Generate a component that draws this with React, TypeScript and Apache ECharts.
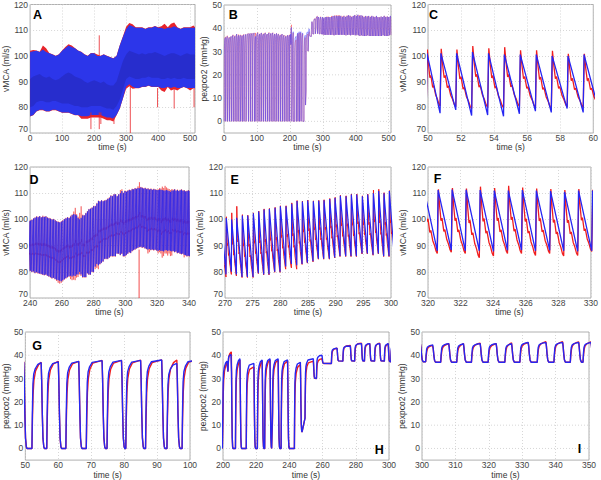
import React, { useEffect, useRef } from "react";
import * as echarts from "echarts";

// ---------------- Panel A (0–515 s): vMCA envelope, every 10 s ----------------
const aT = [0, 10, 20, 30, 40, 50, 60, 70, 80, 90, 100, 110, 120, 130, 140, 150, 160, 170, 180, 190, 200, 210, 220, 230, 240, 250, 260, 270, 280, 290, 300, 310, 320, 330, 340, 350, 360, 370, 380, 390, 400, 410, 420, 430, 440, 450, 460, 470, 480, 490, 500, 510, 515];
const aBlueUp = [101.5, 101.8, 102, 101.5, 102.5, 101.5, 101, 100.5, 100, 100.5, 102, 103, 104, 103.5, 103, 102, 101.5, 100.5, 100, 101, 101, 100, 100, 100.5, 100, 99.5, 99, 100, 104, 107.5, 110.5, 112, 111.5, 111, 111, 111, 110.5, 111, 111, 111.5, 111, 111, 110.5, 111, 111, 111.5, 111, 110.5, 111, 111, 111, 111, 111];
const aBlueLow = [76.5, 77, 78.5, 79, 79, 78.5, 78.5, 79, 79, 78.5, 78, 78, 78, 77.5, 77, 77, 76.5, 76.5, 76.5, 77, 77, 77, 77, 76.5, 76, 76, 75.5, 77, 79.5, 83.5, 88, 89, 88, 87.5, 87.5, 88, 88, 88.5, 88, 88, 88, 87.5, 87.5, 88, 87.5, 88, 87.5, 87.5, 88, 87.5, 87.5, 87.5, 87.5];
const aCoreUp = [91, 92, 92.5, 93, 92, 91.5, 92, 91, 90.5, 91, 92, 93, 93.5, 93, 92, 91.5, 91, 90, 89.5, 90, 90.5, 90, 89.5, 90, 89, 88.5, 88.5, 90, 94, 98, 100.5, 102, 101.5, 101, 100.5, 101, 100.5, 101, 101, 101.5, 101, 100.5, 100, 100.5, 101, 101, 100.5, 100, 100.5, 101, 100.5, 100.5, 100.5];
const aCoreLow = [80, 80.5, 82, 82.5, 82.5, 82, 82, 82.5, 82.5, 82, 81.5, 81.5, 81.5, 81, 80.5, 80.5, 80, 80, 80, 80.5, 80.5, 80.5, 80.5, 80, 79.5, 79.5, 79, 80.5, 83, 87, 91, 92, 91.5, 91, 91, 91.5, 91.5, 92, 91.5, 91.5, 91.5, 91, 91, 91.5, 91, 91.5, 91, 91, 91.5, 91, 91, 91, 91];
const aRedUp = [102, 102.3, 102.1, 101.6, 104, 103, 101.1, 100.6, 100.1, 100.6, 102.1, 103.5, 104.5, 104, 103.1, 102.1, 101.6, 100.6, 100.1, 101.1, 101.1, 100.5, 100.1, 100.6, 100.1, 99.6, 99.1, 100.1, 104.1, 107.6, 111.3, 112.8, 112.3, 111.1, 111.1, 111.1, 110.6, 111.1, 111.1, 111.6, 111.1, 111.5, 112.5, 111.1, 112.5, 113, 111.1, 110.6, 111.1, 111.1, 111.1, 111.8, 111.1];
const aRedLow = [76.4, 76.9, 78.4, 78.9, 78.9, 78.4, 78.4, 78.9, 78.9, 78.4, 77.9, 77.9, 77.9, 77.4, 76.9, 76.9, 75.5, 75.5, 75.5, 76, 76, 76, 76, 75.5, 75, 75, 74.5, 76.9, 79.4, 83.4, 87.2, 88.2, 87.2, 87.4, 87.4, 87.9, 87.9, 88.4, 87.9, 87.9, 87.9, 86.5, 86, 87.9, 86.5, 87, 86.5, 87.4, 87.9, 87.4, 86.5, 87.4, 87.4];
// red artefact spikes: [time, low, high]
const aRedSpikes = [[190, 71.5, 78], [216, 71.5, 78], [221, 73.5, 78], [216, 100, 108], [262, 73.5, 76], [313, 70, 88], [398, 80, 87.5], [450, 79.5, 87.5], [512, 80, 87.5]];

// ---------------- Panel C (50–60 s): beats ----------------
const cBeatT = [49.94, 50.78, 51.73, 52.69, 53.66, 54.62, 55.58, 56.55, 57.51, 58.47, 59.44, 60.4];
const cBluePeak = [101, 101, 101, 101.5, 101, 100.5, 100.5, 100.5, 100, 100, 100.5, 100];
const cBlueTrough = [78, 77.7, 79, 76.8, 77, 76.5, 77.5, 78.5, 78, 79.5, 78, 78.5];
const cRedPeak = [102.5, 102.8, 102.5, 103.8, 103, 103.4, 102.2, 102.2, 102, 100.8, 100.8, 100];
const cRedTrough = [80, 80.5, 80.2, 79.5, 80, 79.8, 80.3, 80, 79.5, 80.2, 80, 80];

// ---------------- Panels D/E/F (240–340 s): beats ----------------
const vBeatT = [
  239.25, 240.22, 241.19, 242.17, 243.13, 244.11, 245.08, 246.06, 247.02, 248.0, 248.97, 249.95, 250.91, 251.89, 252.86, 253.84, 254.8, 255.78, 256.75, 257.73, 258.69, 259.67, 260.64, 261.62, 262.58, 263.56, 264.53, 265.51, 266.47, 267.45, 268.42, 269.3,
  270.23, 271.2, 272.11, 273.13, 274.1, 275.12, 276.08, 277.05, 278.01, 279.04, 280.0, 281.02, 282.05, 283.01, 283.98, 284.94, 285.96, 286.93, 287.89, 288.92, 289.88, 290.84, 291.87, 292.83, 293.8, 294.82, 295.78, 296.81, 297.77, 298.73, 299.7,
  300.62, 301.53, 302.44, 303.36, 304.26, 305.17, 306.08, 306.98, 307.89, 308.8, 309.7, 310.61, 311.51, 312.42, 313.33, 314.23, 315.14, 316.04, 316.95, 317.85, 318.77, 319.76,
  320.62, 321.48, 322.34, 323.2, 324.07, 324.93, 325.79, 326.65, 327.52, 328.38, 329.24,
  330.1, 330.97, 331.83, 332.7, 333.57, 334.43, 335.3, 336.17, 337.03, 337.9, 338.77, 339.63, 340.5,
];
const vBluePeak = [
  99.3, 99.5, 99.8, 100.3, 100.6, 101, 100.8, 101.2, 100.7, 101, 100.9, 101.1, 100.6, 100.4, 100.2, 99.9, 100, 99.6, 99.2, 99, 98.8, 99.1, 99.5, 100, 100.4, 100.7, 100.5, 101, 101.6, 102, 101.8, 101.5,
  100.5, 100, 100.6, 101.5, 101.5, 102.3, 103, 103.8, 104, 104.4, 105, 105, 106, 107, 106.8, 107.2, 106.9, 107.1, 107.3, 107.8, 108.2, 109, 108.8, 109.5, 109.5, 108.8, 109.5, 110, 110.8, 110, 110.8,
  110.5, 110.9, 111.2, 111, 111.5, 111.4, 111.8, 111.6, 112, 111.8, 112.2, 112, 111.7, 111.9, 111.5, 111.7, 111.3, 111.6, 111.2, 111.5, 111.3, 111.2,
  111.2, 111.4, 111.3, 111.2, 111, 111, 111.2, 111, 110.8, 110.5, 111,
  111, 111.4, 110.9, 111.2, 110.8, 111.1, 111.3, 110.9, 111, 110.6, 110.8, 111, 110.8,
];
const vBlueTrough = [
  80.2, 80.5, 80, 80.2, 79.6, 79.9, 79.5, 79.4, 79.2, 79, 78.8, 79, 78.6, 78.3, 78, 77.6, 77.8, 77.3, 77, 76.8, 76.6, 76.4, 76.8, 77.2, 77.6, 78, 78.3, 78.5, 78.2, 78.6, 78.4, 79,
  79, 80, 79, 78, 78, 78, 79.5, 79, 79, 80, 80, 82, 83, 82.5, 83, 83.5, 84, 85, 85, 85, 85.5, 86, 86, 86, 86, 87, 87, 86.5, 87, 86, 86,
  86.5, 87, 87.5, 87.3, 88, 88.4, 88.6, 89, 89.2, 89.5, 89.6, 89.3, 89.5, 89, 88.8, 88.5, 88.7, 88.4, 88.6, 88.3, 88.5, 88.2,
  88, 88.3, 88, 88, 87.8, 88.2, 88.3, 88, 88.2, 88, 87.8,
  88, 87.6, 87.8, 87.2, 87.4, 87, 86.8, 87, 86.5, 86.4, 86, 86.2, 86,
];
const vRedPeak = [
  99.5, 99.6, 100, 100.4, 100.8, 101.2, 101, 101.3, 100.9, 101.4, 101.1, 101.2, 100.8, 100.6, 100.4, 100.1, 100.2, 99.8, 99.4, 99.2, 99, 99.3, 99.8, 100.2, 100.6, 100.9, 100.7, 101.4, 101.9, 103, 104.4, 102,
  101, 102.5, 105, 101.8, 101.6, 102.5, 103.2, 104, 104.2, 104.6, 105.2, 105.2, 106.3, 107.2, 107, 107.4, 107.1, 107.3, 107.5, 108, 108.4, 109.2, 109, 109.7, 109.7, 109, 109.7, 111.2, 111.5, 110.2, 111,
  110.7, 111.1, 111.4, 111.2, 111.7, 111.6, 112, 111.8, 112.6, 114.2, 112.4, 112.2, 111.9, 112.1, 111.7, 111.9, 111.5, 111.8, 111.4, 111.7, 111.5, 111.4,
  111.5, 112, 111.8, 112.5, 112, 112.8, 112.2, 111.8, 111.6, 111.2, 111.6,
  111.3, 111.6, 111.1, 111.4, 111, 111.3, 111.5, 111.1, 111.2, 110.8, 111, 111.2, 111,
];
const vRedTrough = [
  80, 80.3, 79.8, 80, 79.4, 79.7, 79.3, 79.2, 79, 78.8, 78.6, 78.8, 78.4, 78.1, 77.8, 77.4, 77.6, 77.1, 76.5, 75.8, 75.5, 75.8, 76.4, 77, 77.4, 77.8, 78.1, 77.2, 76.8, 77, 76.8, 77.8,
  78, 79, 78.4, 77.8, 77.8, 77.8, 79.3, 78.8, 78.8, 79.8, 79.8, 81, 81.5, 81, 82.8, 83.3, 83.8, 84.8, 84.8, 84.8, 85.3, 85.8, 85.8, 85.8, 85.8, 86.8, 86.8, 86.3, 86.8, 85.8, 85.8,
  86.3, 86.8, 87.3, 87.1, 87.8, 88.2, 88.4, 88.8, 89, 89.3, 89.4, 89.1, 89.3, 88.8, 88.6, 87, 87.5, 88.2, 88.4, 88.1, 88.3, 88,
  87, 87.5, 87, 85.4, 86, 87, 87, 86.2, 87, 86, 86.2,
  87.8, 87.4, 87.6, 87, 87.2, 86.8, 86.6, 86.8, 85.5, 86.2, 85.8, 86, 85.8,
];
const vRedSpikes = [[308.6, 70, 88.5]];

// ---------------- pexpco2 breaths: [rise, fall, blueTop, redTop, levelAfter, startLevel?] ----------------
const co2Pulses: number[][] = [
  [0.6, 4.2, 36, 36.3, 0], [6.3, 10.0, 36.5, 36.8, 0], [12.2, 15.8, 36, 36.2, 0], [17.7, 21.5, 36.5, 36.5, 0], [23.5, 27.2, 37, 37.2, 0],
  [29.0, 32.8, 36.5, 36.8, 0], [34.8, 38.5, 37.5, 37.5, 0], [40.2, 44.0, 37, 37.3, 0], [45.9, 49.5, 37, 37.2, 0],
  [52.0, 54.8, 36.8, 37, 0], [56.5, 60.0, 37.2, 37.4, 0], [62.3, 66.2, 37.4, 37.4, 0], [68.5, 73.3, 37.7, 37.8, 0], [74.8, 79.2, 37.8, 37.8, 0],
  [80.5, 85.0, 37.8, 37.9, 0], [86.5, 91.4, 38, 38, 0], [93.0, 96.0, 36.5, 38, 0], [97.6, 102.4, 38, 38.2, 0],
  [103.8, 107.9, 37.5, 37.6, 0], [109.6, 113.5, 38, 38, 0], [115.3, 119.4, 37.5, 37.7, 0], [121.0, 125.2, 38, 38.1, 0], [126.8, 130.9, 37.5, 37.5, 0],
  [132.4, 136.5, 38, 38.2, 0], [138.1, 142.3, 37.8, 37.8, 0], [143.9, 148.0, 38, 38.1, 0], [149.5, 153.6, 37.5, 37.6, 0], [155.2, 159.4, 37.8, 37.8, 0],
  [160.9, 165.0, 37.5, 37.6, 0], [166.6, 170.7, 37, 37.2, 0], [172.3, 176.4, 37.5, 37.5, 0], [178.0, 182.0, 37, 37.1, 0], [183.6, 187.7, 36.5, 36.8, 0],
  [189.3, 193.3, 37, 37, 0], [194.8, 198.6, 37, 37.2, 0],
  [199.8, 202.4, 37.5, 37, 33], [203.0, 205.0, 40.5, 41.5, 0], [207.5, 210.2, 38.5, 38, 0], [214.0, 218.6, 36.5, 35, 0], [220.7, 223.6, 38, 37.5, 0],
  [225.1, 228.3, 38.5, 38, 0], [229.7, 233.2, 38.5, 38, 0], [235.0, 238.9, 38, 37.5, 0], [243.0, 246.6, 37, 36, 7], [249.4, 254.4, 38.5, 37.5, 30, 13],
  [256.3, 259.6, 40, 38.5, 36.5], [265.3, 268.7, 43, 43, 37.5], [272.2, 276.7, 44, 44.2, 37.5], [279.3, 283.4, 45, 45.2, 37.5], [285.2, 288.4, 45, 45, 37.5],
  [291.3, 294.4, 45, 45.2, 37.5], [297.2, 299.5, 45, 45, 37.2],
  [301.1, 303.2, 44.5, 44.5, 37], [305.6, 308.0, 45, 45, 37], [310.4, 312.4, 45, 45, 37], [314.8, 317.4, 45, 45.2, 37], [319.8, 322.2, 45, 45, 37],
  [324.8, 326.8, 45, 45.3, 37], [329.3, 331.8, 45.5, 45.5, 37], [334.5, 337.1, 45.5, 45.8, 37], [339.5, 342.1, 45.5, 45.8, 37], [344.4, 346.9, 45.5, 45.8, 37],
  [348.2, 350.6, 45.5, 45.8, 37],
  [353.0, 355.4, 45.5, 45.6, 37], [357.7, 360.1, 45, 45.3, 37], [362.4, 364.8, 45.5, 45.6, 37], [367.0, 369.5, 45, 45.2, 36.8], [371.8, 374.2, 45.5, 45.7, 37],
  [376.5, 378.9, 45.8, 45.8, 37], [381.1, 383.6, 45.5, 45.6, 36.8], [385.9, 388.3, 45, 45.3, 37], [390.6, 393.0, 45.5, 45.5, 37], [395.2, 397.7, 45.8, 46, 36.8],
  [400.0, 402.4, 45.5, 45.6, 37], [404.7, 407.1, 46, 46, 36.8], [409.3, 411.8, 45.5, 45.8, 36.5], [414.1, 416.5, 45.8, 45.8, 36.8], [418.8, 421.2, 45.5, 45.6, 36.5],
  [423.4, 425.9, 45, 45.3, 36.5], [428.2, 430.6, 45.5, 45.5, 36.5], [432.9, 435.3, 45.2, 45.4, 36.8], [437.5, 440.0, 45.5, 45.5, 36.5], [442.3, 444.7, 45, 45.2, 36.5],
  [447.0, 449.4, 45.5, 45.6, 36.5], [451.6, 454.1, 45.2, 45.2, 36.5], [456.4, 458.8, 45, 45.2, 36.5], [461.1, 463.5, 45.5, 45.5, 36.5], [465.7, 468.2, 45, 45.1, 36.5],
  [470.5, 472.9, 44.8, 45, 36.5], [475.2, 477.6, 45.2, 45.3, 36.5], [479.9, 482.3, 45, 45, 36.8], [484.5, 487.0, 45.5, 45.6, 36.5], [489.3, 491.7, 45, 45.2, 36.5],
  [494.0, 496.4, 45.2, 45.3, 36.5], [498.6, 501.1, 45, 45.1, 36.8], [503.4, 505.8, 45.5, 45.5, 37],
];

const co2Ticks = [0, 10, 20, 30, 40, 50];

// ---------------- styling ----------------
const FONT = "'Liberation Sans', Arial, Helvetica, sans-serif";
const BLUE = "#2626f2";
const RED = "#f01e1e";
const GRIDC = "#cdcdcd";

// waveform templates (shape only; amplitudes/timings come from the arrays above)
const RED_BEAT = [[0.1, 0.72], [0.2, 0.5], [0.28, 0.54], [0.42, 0.33], [0.5, 0.36], [0.65, 0.2], [0.78, 0.13], [0.9, 0.04]];
const RISE_B = [[0.12, 0.4], [0.3, 0.75], [0.55, 0.87], [1.0, 0.93], [1.8, 0.98]];
const RISE_R = [[0.15, 0.33], [0.35, 0.63], [0.6, 0.79], [1.1, 0.9], [2.0, 0.97]];
const FALL = [[0.15, 0.8], [0.35, 0.4], [0.55, 0.12], [0.8, 0.02], [1.0, 0]];

function blueBeats(t: number[], pk: number[], tr: number[]) {
  const pts: number[][] = [];
  const n = Math.min(t.length, pk.length, tr.length);
  for (let i = 0; i < n; i++) {
    pts.push([t[i] - 0.05, tr[i]]);
    pts.push([t[i], pk[i]]);
  }
  return pts;
}

function redBeats(t: number[], pk: number[], tr: number[]) {
  const pts: number[][] = [];
  const n = Math.min(t.length, pk.length, tr.length);
  for (let i = 0; i < n; i++) {
    const tp = t[i] + 0.02;
    pts.push([t[i] - 0.05, tr[i]]);
    pts.push([tp, pk[i]]);
    if (i + 1 < n) {
      const d = t[i + 1] - 0.05 - tp;
      const nx = tr[i + 1];
      for (const [ft, fv] of RED_BEAT) pts.push([tp + ft * d, nx + fv * (pk[i] - nx)]);
    }
  }
  return pts;
}

function co2Line(red: boolean) {
  const pts: number[][] = [];
  let level = 0;
  const shape = red ? RISE_R : RISE_B;
  for (let i = 0; i < co2Pulses.length; i++) {
    const p = co2Pulses[i];
    const r = p[0], f = p[1], top = red ? p[3] : p[2], after = p[4];
    const b0 = p.length > 5 ? p[5] : level;
    const nextRise = i + 1 < co2Pulses.length ? co2Pulses[i + 1][0] : Infinity;
    pts.push([r, b0]);
    for (const [dt, fr] of shape) if (r + dt < f - 0.05) pts.push([r + dt, b0 + fr * (top - b0)]);
    pts.push([f, top]);
    for (const [dt, fr] of FALL) if (f + dt < nextRise - 0.02) pts.push([f + dt, after + fr * (top - after)]);
    level = after;
  }
  return pts;
}

type PanelDef = {
  grid: number[];
  x: number[];
  kind: "v" | "c";
  yName: string;
  yGap: number;
  letter: string;
  lx: number;
  ly: number;
};

const panels: PanelDef[] = [
  { grid: [29, 4, 166, 129], x: [0, 515, 100], kind: "v", yName: "vMCA (ml/s)", yGap: 11, letter: "A", lx: 37.5, ly: 14.5 },
  { grid: [224, 5, 167, 128], x: [0, 507, 100], kind: "c", yName: "pexpco2 (mmHg)", yGap: 10, letter: "B", lx: 233.3, ly: 15 },
  { grid: [428, 4, 166, 129], x: [50, 60, 2], kind: "v", yName: "vMCA (ml/s)", yGap: 15, letter: "C", lx: 433.5, ly: 14.5 },
  { grid: [28, 167, 161, 131], x: [240, 340, 20], kind: "v", yName: "vMCA (ml/s)", yGap: 18, letter: "D", lx: 34, ly: 179.5 },
  { grid: [225, 167, 166, 131], x: [270, 300, 5], kind: "v", yName: "vMCA (ml/s)", yGap: 12, letter: "E", lx: 234.7, ly: 179.5 },
  { grid: [428, 167, 168, 131], x: [320, 330, 2], kind: "v", yName: "vMCA (ml/s)", yGap: 15, letter: "F", lx: 437.5, ly: 179.2 },
  { grid: [23, 332, 167, 131], x: [50, 100, 10], kind: "c", yName: "pexpco2 (mmHg)", yGap: 8, letter: "G", lx: 37, ly: 346 },
  { grid: [223, 332, 166, 131], x: [200, 300, 20], kind: "c", yName: "pexppco2 (mmHg)", yGap: 10, letter: "H", lx: 379.2, ly: 450 },
  { grid: [422, 332, 167, 131], x: [300, 350, 10], kind: "c", yName: "pexpco2 (mmHg)", yGap: 9, letter: "I", lx: 579.5, ly: 449 },
];

function buildOption() {
  const grids = panels.map((p) => ({
    left: p.grid[0], top: p.grid[1], width: p.grid[2], height: p.grid[3],
    show: true, borderColor: "#9c9c9c", borderWidth: 0.8, backgroundColor: "transparent", containLabel: false,
  }));
  const labelStyle = { fontSize: 8.5, color: "#444", fontFamily: FONT };
  const xAxes = panels.map((p, k) => ({
    type: "value", gridIndex: k, min: p.x[0], max: p.x[1], interval: p.x[2],
    name: "time (s)", nameLocation: "middle", nameGap: 6,
    nameTextStyle: { fontSize: 8.5, color: "#333", fontFamily: FONT },
    axisLine: { show: false }, axisTick: { show: false },
    axisLabel: {
      ...labelStyle, margin: 0, hideOverlap: false,
      formatter: (v: number) => (Math.abs(v / p.x[2] - Math.round(v / p.x[2])) < 1e-6 ? String(v) : ""),
    },
    splitLine: { show: true, lineStyle: { color: GRIDC, width: 0.8, type: [1, 2] } },
  }));
  const yAxes = panels.map((p, k) =>
    p.kind === "v"
      ? {
          type: "value", gridIndex: k, min: 70, max: 120, interval: 10,
          name: p.yName, nameLocation: "middle", nameGap: p.yGap,
          nameTextStyle: { fontSize: 8.5, color: "#333", fontFamily: FONT },
          axisLine: { show: false }, axisTick: { show: false },
          axisLabel: { ...labelStyle, margin: 2, verticalAlignMinLabel: "bottom" },
          splitLine: { show: true, lineStyle: { color: GRIDC, width: 0.8, type: [1, 2] } },
        }
      : {
          type: "value", gridIndex: k, min: -5, max: 50, interval: 5,
          name: p.yName, nameLocation: "middle", nameGap: p.yGap,
          nameTextStyle: { fontSize: 8.5, color: "#333", fontFamily: FONT },
          axisLine: { show: false }, axisTick: { show: false },
          axisLabel: { ...labelStyle, margin: 2, formatter: (v: number) => (v % 10 === 0 ? String(v) : "") },
          splitLine: { show: false },
        }
  );

  const series: any[] = [];
  const line = (k: number, data: number[][], color: string, width: number, z: number) => ({
    type: "line", xAxisIndex: k, yAxisIndex: k, data, showSymbol: false, symbol: "none",
    lineStyle: { color, width }, silent: true, clip: true, z, animation: false,
  });
  const band = (k: number, t: number[], up: number[], low: number[], color: string, z: number) => ({
    type: "custom", xAxisIndex: k, yAxisIndex: k, data: [[t[0], low[0]]], silent: true, z, clip: true,
    renderItem: (_params: any, api: any) => {
      const pts: number[][] = [];
      for (let i = 0; i < t.length; i++) pts.push(api.coord([t[i], up[i]]));
      for (let i = t.length - 1; i >= 0; i--) pts.push(api.coord([t[i], low[i]]));
      return { type: "polygon", shape: { points: pts }, style: { fill: color } };
    },
  });
  const spikes = (k: number, data: number[][], color: string, width: number, z: number) => ({
    type: "custom", xAxisIndex: k, yAxisIndex: k, data, silent: true, z, clip: true,
    encode: { x: 0, y: [1, 2] },
    renderItem: (_params: any, api: any) => {
      const a = api.coord([api.value(0), api.value(1)]);
      const b = api.coord([api.value(0), api.value(2)]);
      return { type: "line", shape: { x1: a[0], y1: a[1], x2: b[0], y2: b[1] }, style: { stroke: color, lineWidth: width } };
    },
  });
  const hGrid = (k: number, ticks: number[], xMid: number) => ({
    type: "custom", xAxisIndex: k, yAxisIndex: k, data: ticks.filter((v) => v < 50).map((v) => [xMid, v]), silent: true, z: 1,
    encode: { x: 0, y: 1 },
    renderItem: (params: any, api: any) => {
      const cs = params.coordSys;
      const y = api.coord([api.value(0), api.value(1)])[1];
      return { type: "line", shape: { x1: cs.x, y1: y, x2: cs.x + cs.width, y2: y }, style: { stroke: GRIDC, lineWidth: 0.8, lineDash: [1, 2] } };
    },
  });

  // A
  series.push(band(0, aT, aRedUp, aRedLow, "#e8242a", 2));
  series.push(band(0, aT, aBlueUp, aBlueLow, "#2c36ea", 3));
  series.push(band(0, aT, aCoreUp, aCoreLow, "rgba(22,20,120,0.25)", 4));
  series.push(spikes(0, aRedSpikes, "#e8242a", 0.8, 5));

  // C
  series.push(line(2, redBeats(cBeatT, cRedPeak, cRedTrough), RED, 1.3, 3));
  series.push(line(2, blueBeats(cBeatT, cBluePeak, cBlueTrough), BLUE, 1.3, 4));

  // D, E, F
  const vRed = redBeats(vBeatT, vRedPeak, vRedTrough);
  const vBlue = blueBeats(vBeatT, vBluePeak, vBlueTrough);
  const vRedW = [0.45, 1.0, 1.3];
  const vBlueW = [0.75, 1.2, 1.3];
  [3, 4, 5].forEach((k, j) => {
    series.push(line(k, vRed, RED, vRedW[j], 3));
    series.push(line(k, vBlue, BLUE, vBlueW[j], 4));
  });
  series.push(spikes(3, vRedSpikes, RED, 0.8, 5));

  // B, G, H, I
  const co2Red = co2Line(true);
  const co2Blue = co2Line(false);
  [1, 6, 7, 8].forEach((k) => {
    const p = panels[k];
    const thin = k === 1;
    series.push(hGrid(k, co2Ticks, (p.x[0] + p.x[1]) / 2));
    series.push(line(k, co2Red, thin ? "#ff5050" : RED, thin ? 0.5 : 1.4, 3));
    series.push(line(k, co2Blue, thin ? "#4848ff" : BLUE, thin ? 0.5 : 1.4, 4));
  });

  const graphic = panels.map((p) => ({
    type: "text", x: p.lx, y: p.ly, z: 100,
    style: {
      text: p.letter, fill: "#000", font: `bold 12.5px ${FONT}`,
      align: "center", verticalAlign: "middle", textAlign: "center", textVerticalAlign: "middle",
    },
  }));

  return {
    animation: false,
    backgroundColor: "#ffffff",
    grid: grids,
    xAxis: xAxes,
    yAxis: yAxes,
    series,
    graphic,
  };
}

export default function App() {
  const ref = useRef<HTMLDivElement>(null);
  useEffect(() => {
    if (!ref.current) return;
    const chart = echarts.init(ref.current, undefined, { renderer: "svg" });
    chart.setOption(buildOption() as any);
    return () => chart.dispose();
  }, []);
  return <div ref={ref} style={{ position: "fixed", left: 0, top: 0, width: 601, height: 480, background: "#fff" }} />;
}
